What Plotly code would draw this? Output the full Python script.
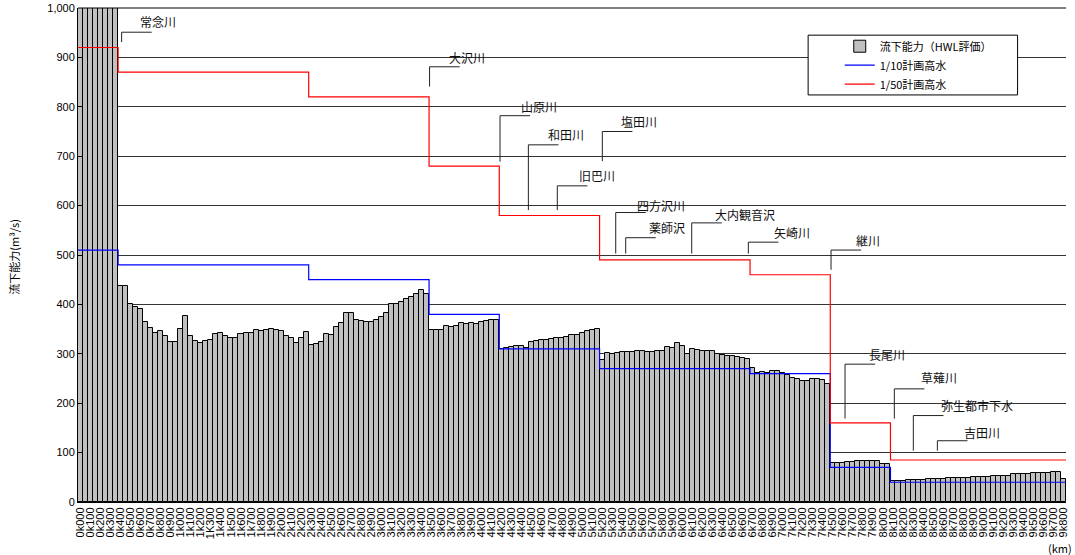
import plotly.graph_objects as go

# ---------------- data ----------------
# categories every 50 m (0k000 ... 9k800)
categories = []
for k in range(197):
    d = k * 50
    categories.append(f"{d // 1000}k{d % 1000:03d}")
categories[26] = "1K300"  # printed this way in the original

# tick labels shown every 100 m
tick_labels = categories[::2]

# flow capacity (HWL evaluation), m3/s
capacity = [
    1200, 1200, 1200, 1200, 1200, 1200, 1200, 1200, 437, 437,
    400, 394, 390, 364, 352, 343, 346, 336, 323, 323,
    350, 376, 337, 326, 321, 326, 327, 341, 343, 337,
    333, 333, 341, 343, 343, 348, 346, 348, 350, 348,
    346, 336, 333, 321, 333, 345, 317, 319, 323, 341,
    339, 355, 362, 382, 383, 368, 366, 365, 365, 368,
    375, 383, 400, 400, 404, 410, 414, 421, 430, 421,
    348, 348, 348, 357, 355, 356, 362, 361, 362, 360,
    364, 366, 368, 368, 310, 311, 313, 316, 316, 311,
    323, 325, 327, 327, 329, 331, 333, 335, 339, 339,
    343, 346, 348, 350, 288, 301, 299, 301, 303, 303,
    304, 306, 306, 304, 304, 306, 306, 313, 311, 321,
    316, 300, 309, 308, 306, 306, 306, 300, 298, 296,
    296, 293, 291, 289, 271, 261, 264, 261, 266, 266,
    261, 257, 252, 248, 244, 244, 248, 248, 246, 239,
    78, 78, 78, 80, 80, 82, 82, 84, 84, 84,
    76, 76, 43, 43, 43, 45, 45, 45, 45, 47,
    47, 47, 47, 49, 49, 49, 49, 49, 51, 51,
    51, 51, 53, 53, 53, 53, 56, 56, 56, 56,
    58, 58, 58, 58, 60, 60, 47,
]

# planned high water discharge: section start points and levels
plan_breaks = ["0k000", "0k400", "2k300", "3k500", "4k200", "5k200", "6k700", "7k500", "8k100"]
plan10_levels = [510, 480, 450, 380, 310, 270, 260, 70, 40]
plan50_levels = [920, 870, 820, 680, 580, 490, 460, 160, 85]

# tributary labels: name, corner x, corner y, leader bottom y, text x, text y
tributaries = [
    ("常念川", 8.2, 951, 931, 15.4, 972),
    ("大沢川", 69.6, 881, 841, 77.0, 899),
    ("山原川", 83.65, 782, 689, 91.5, 800),
    ("和田川", 89.3, 723, 591, 96.75, 743),
    ("塩田川", 104.05, 750, 690, 111.4, 771),
    ("旧巴川", 95.07, 640, 591, 103.05, 660),
    ("四方沢川", 106.72, 586, 503, 115.7, 601),
    ("薬師沢", 108.71, 535, 503, 117.0, 555),
    ("大内観音沢", 121.87, 565, 503, 132.5, 583),
    ("矢崎川", 133.16, 526, 503, 141.8, 546),
    ("継川", 149.65, 510, 470, 157.1, 530),
    ("長尾川", 152.44, 279, 169, 160.9, 298),
    ("草薙川", 162.27, 229, 169, 171.2, 252),
    ("弥生都市下水", 166.06, 175, 104, 178.8, 196),
    ("吉田川", 170.85, 124, 104, 179.8, 141),
]

# ---------------- figure ----------------
FONT = "Noto Sans CJK JP, Liberation Sans, sans-serif"
NUMFONT = "Liberation Sans, Arial, sans-serif"
xpos = list(range(len(categories)))


def step_xy(breaks, levels):
    idx = [categories.index(b) for b in breaks] + [len(categories)]
    xs, ys = [], []
    for i, v in enumerate(levels):
        xs += [idx[i] - 0.5, idx[i + 1] - 0.5]
        ys += [v, v]
    return xs, ys


fig = go.Figure()
fig.add_trace(go.Bar(
    x=xpos, y=capacity, name="流下能力（HWL評価）",
    marker=dict(color="#C0C0C0", line=dict(color="black", width=1)),
    hovertext=categories,
))
bx, by = step_xy(plan_breaks, plan10_levels)
fig.add_trace(go.Scatter(x=bx, y=by, mode="lines", name="1/10計画高水",
                         line=dict(color="#0000FF", width=1.2)))
rx, ry = step_xy(plan_breaks, plan50_levels)
fig.add_trace(go.Scatter(x=rx, y=ry, mode="lines", name="1/50計画高水",
                         line=dict(color="#FF0000", width=1.2)))

shapes = []
annotations = []
for name, xc, yc, yb, xt, yt in tributaries:
    shapes.append(dict(type="path", xref="x", yref="y",
                       path=f"M{xc},{yb} L{xc},{yc} L{xc + 6},{yc}",
                       line=dict(color="#222222", width=1), layer="above"))
    annotations.append(dict(x=xt, y=yt, xref="x", yref="y", text=name,
                            xanchor="center", yanchor="middle",
                            showarrow=False, font=dict(size=12, color="#111111", family=FONT)))

# top frame line (1,000 grid line)
shapes.append(dict(type="line", xref="paper", yref="paper", x0=0, x1=1, y0=1, y1=1,
                   line=dict(color="black", width=1), layer="above"))
# legend box
shapes.append(dict(type="rect", xref="paper", yref="paper",
                   x0=0.739, x1=0.951, y0=0.824, y1=0.945,
                   fillcolor="white", line=dict(color="black", width=1), layer="above"))

annotations.append(dict(x=-0.065, y=0.496, xref="paper", yref="paper",
                        xanchor="center", yanchor="middle",
                        text="流下能力(m³/s)", textangle=-90, showarrow=False,
                        font=dict(size=11, color="black", family=FONT)))
annotations.append(dict(x=0.994, y=-0.093, xref="paper", yref="paper",
                        xanchor="center", yanchor="middle",
                        text="(km)", showarrow=False,
                        font=dict(size=11, color="black", family=FONT)))

fig.update_layout(
    width=1075, height=555,
    margin=dict(l=78, r=9, t=8, b=53, autoexpand=False),
    paper_bgcolor="white", plot_bgcolor="white",
    bargap=0,
    font=dict(family=FONT, size=11, color="black"),
    showlegend=True,
    legend=dict(x=0.771, y=0.952, xanchor="left", yanchor="top",
                bgcolor="rgba(0,0,0,0)", borderwidth=0,
                font=dict(size=11, family=FONT), tracegroupgap=0),
    shapes=shapes,
    annotations=annotations,
)
fig.update_xaxes(
    range=[-0.5, len(categories) - 0.5], automargin=False,
    tickmode="array", tickvals=xpos[::2], ticktext=tick_labels,
    tickangle=-90, tickfont=dict(size=11, family=NUMFONT),
    showgrid=False, showline=True, linecolor="black", linewidth=1,
    ticks="", zeroline=False,
)
fig.update_yaxes(
    range=[0, 1000], automargin=False,
    tickmode="array", tickvals=list(range(0, 1001, 100)),
    ticktext=[f"{v:,}" for v in range(0, 1001, 100)],
    tickfont=dict(size=11, family=NUMFONT),
    showgrid=True, gridcolor="#333333", gridwidth=1,
    showline=True, linecolor="black", linewidth=1,
    ticks="inside", ticklen=4, tickcolor="black", zeroline=False,
)

fig.write_html("out.html", config={"displayModeBar": False},
               post_script="document.body.style.margin='0';")
